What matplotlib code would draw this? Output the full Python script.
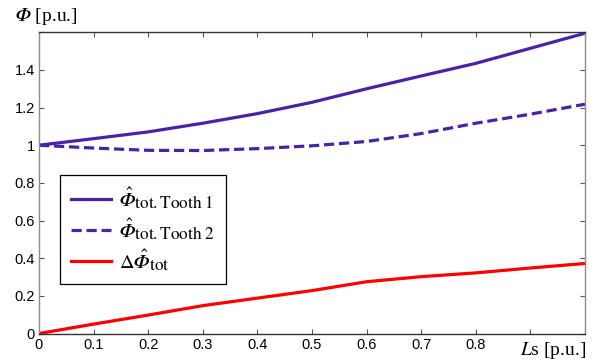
import matplotlib
matplotlib.use("Agg")
import matplotlib.pyplot as plt

plt.rcParams['mathtext.fontset'] = 'stix'
try:
    import matplotlib._mathtext as _mt
    _mt.SHRINK_FACTOR = 0.85
except Exception:
    pass

ls = [0.0, 0.1, 0.2, 0.3, 0.4, 0.5, 0.6, 0.7, 0.8, 0.9, 1.0]
tooth1 = [1.0, 1.035, 1.071, 1.117, 1.168, 1.228, 1.300, 1.368, 1.435, 1.515, 1.595]
tooth2 = [1.0, 0.985, 0.973, 0.972, 0.982, 0.997, 1.020, 1.062, 1.117, 1.165, 1.218]
delta = [0.0, 0.050, 0.098, 0.148, 0.188, 0.228, 0.275, 0.302, 0.322, 0.348, 0.372]

xticks = [0, 0.1, 0.2, 0.3, 0.4, 0.5, 0.6, 0.7, 0.8, 0.9, 1.0]
xticklabels = ['0', '0.1', '0.2', '0.3', '0.4', '0.5', '0.6', '0.7', '0.8', '', '']
yticks = [0, 0.2, 0.4, 0.6, 0.8, 1.0, 1.2, 1.4, 1.6]
yticklabels = ['0', '0.2', '0.4', '0.6', '0.8', '1', '1.2', '1.4', '']

PHI = '\U0001D6F7'  # mathematical italic capital phi
labels = [r'$\hat{' + PHI + r'}_{\mathrm{tot.Tooth\ 1}}$',
          r'$\hat{' + PHI + r'}_{\mathrm{tot.Tooth\ 2}}$',
          r'$\Delta\hat{' + PHI + r'}_{\mathrm{tot}}$']

purple = '#4a22a8'
red = '#ff0000'

fig = plt.figure(figsize=(5.99, 3.62), dpi=100)
ax = fig.add_axes([0.0651, 0.0787, 0.9115, 0.8321])

ax.plot(ls, tooth1, color=purple, lw=2.3, label=labels[0])
ax.plot(ls, tooth2, color=purple, lw=2.3, linestyle=(0, (3.2, 1.5)), label=labels[1])
ax.plot(ls, delta, color=red, lw=2.3, label=labels[2])

ax.set_xlim(0, 1.0)
ax.set_ylim(0, 1.6)
ax.set_xticks(xticks)
ax.set_xticklabels(xticklabels, fontfamily='Liberation Sans', fontsize=10.5)
ax.set_yticks(yticks)
ax.set_yticklabels(yticklabels, fontfamily='Liberation Sans', fontsize=10.5)
ax.tick_params(direction='in', length=3.5, width=0.8, top=True, right=True,
               colors='#555555', labelcolor='black', pad=3)

for s in ['left', 'right']:
    ax.spines[s].set_color('#8c8c8c')
    ax.spines[s].set_linewidth(1.0)
for s in ['top', 'bottom']:
    ax.spines[s].set_color('#333333')
    ax.spines[s].set_linewidth(1.0)

fig.text(0.025, 0.955, r'$' + PHI + r'$ [p.u.]', fontfamily='Liberation Serif', fontsize=14,
         va='center', ha='left')
fig.text(0.978, 0.033, r'$L$s [p.u.]', fontfamily='Liberation Serif', fontsize=14,
         va='center', ha='right')

leg = ax.legend(loc='lower left', bbox_to_anchor=(0.0385, 0.164), borderaxespad=0,
                handlelength=2.0, handletextpad=0.4, labelspacing=0.25,
                borderpad=0.55, fancybox=False, framealpha=1, edgecolor='black',
                prop={'family': 'Liberation Serif', 'size': 14.5})
leg.get_frame().set_linewidth(0.9)

fig.savefig('out.png', dpi=100)
